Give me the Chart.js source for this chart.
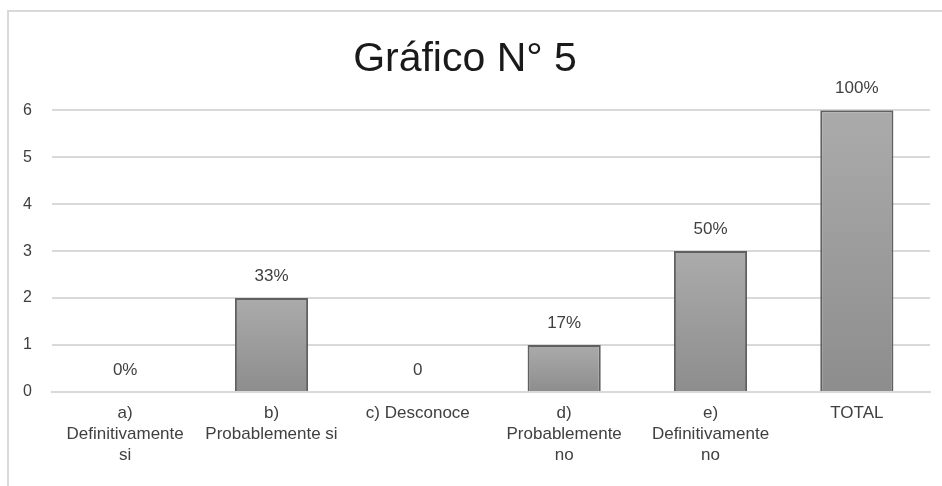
<!DOCTYPE html>
<html>
<head>
<meta charset="utf-8">
<script src="https://cdn.jsdelivr.net/npm/chart.js@4"></script>
<style>
    html, body { margin: 0; padding: 0; background: #fff; }
    #wrap { position: relative; width: 942px; height: 486px; }
    #frame { position: absolute; left: 7px; top: 10px; right: 0; bottom: 0;
             border-top: 2px solid #d9d9d9; border-left: 2px solid #d9d9d9; }
    canvas { position: absolute; left: 0; top: 0; }
</style>
</head>
<body>
<div id="wrap">
    <div id="frame"></div>
    <canvas id="grafico" width="942" height="486"></canvas>
</div>
<script>
const categories = [
    ['a)', 'Definitivamente', 'si'],
    ['b)', 'Probablemente si'],
    ['c) Desconoce'],
    ['d)', 'Probablemente', 'no'],
    ['e)', 'Definitivamente', 'no'],
    ['TOTAL']
];
const values = [0, 2, 0, 1, 3, 6];
const valueLabels = ['0%', '33%', '0', '17%', '50%', '100%'];
const yTicks = [0, 1, 2, 3, 4, 5, 6];

const textColor = '#404040';
const fontFamily = '"Liberation Sans", Arial, sans-serif';

// etiquetas encima de cada barra
const labelPlugin = {
    id: 'barLabels',
    afterDatasetsDraw(chart) {
        const ctx = chart.ctx;
        const meta = chart.getDatasetMeta(0);
        ctx.save();
        ctx.fillStyle = textColor;
        ctx.font = '17px ' + fontFamily;
        ctx.textAlign = 'center';
        ctx.textBaseline = 'middle';
        meta.data.forEach((bar, i) => {
            ctx.fillText(valueLabels[i], bar.x, bar.y - 22);
        });
        ctx.restore();
    }
};

function barGradient(context) {
    const chart = context.chart;
    if (!chart.chartArea || context.parsed === undefined) return '#9b9b9b';
    const y = chart.scales.y;
    const top = y.getPixelForValue(context.parsed.y);
    const base = y.getPixelForValue(0);
    if (base - top < 1) return '#9b9b9b';
    const g = chart.ctx.createLinearGradient(0, top, 0, base);
    g.addColorStop(0, '#ababab');
    g.addColorStop(1, '#8d8d8d');
    return g;
}

const ctx = document.getElementById('grafico').getContext('2d');
new Chart(ctx, {
    type: 'bar',
    data: {
        labels: categories,
        datasets: [{
            data: values,
            backgroundColor: barGradient,
            borderColor: '#606060',
            borderWidth: 2,
            borderSkipped: 'bottom',
            categoryPercentage: 1,
            barPercentage: 0.5
        }]
    },
    options: {
        responsive: false,
        animation: false,
        layout: { padding: { left: 0, right: 12, top: 0, bottom: 0 } },
        plugins: {
            legend: { display: false },
            tooltip: { enabled: false },
            title: {
                display: true,
                text: 'Gráfico N° 5',
                color: '#1a1a1a',
                font: { family: fontFamily, size: 41, weight: 'normal' },
                padding: { top: 35, bottom: 26 }
            }
        },
        scales: {
            y: {
                min: 0,
                max: 6,
                afterBuildTicks(axis) {
                    axis.ticks = yTicks.map(v => ({ value: v }));
                },
                afterFit(axis) { axis.width = 52; },
                ticks: {
                    color: textColor,
                    font: { family: fontFamily, size: 16 },
                    padding: 20
                },
                grid: { color: '#d9d9d9', lineWidth: 2, drawTicks: false },
                border: { display: false }
            },
            x: {
                afterFit(axis) { axis.height = 94; },
                ticks: {
                    color: textColor,
                    font: { family: fontFamily, size: 17, lineHeight: 1.235 },
                    padding: 3,
                    maxRotation: 0,
                    autoSkip: false
                },
                grid: { display: false },
                border: { color: '#d9d9d9', width: 2 }
            }
        }
    },
    plugins: [labelPlugin]
});
</script>
</body>
</html>
